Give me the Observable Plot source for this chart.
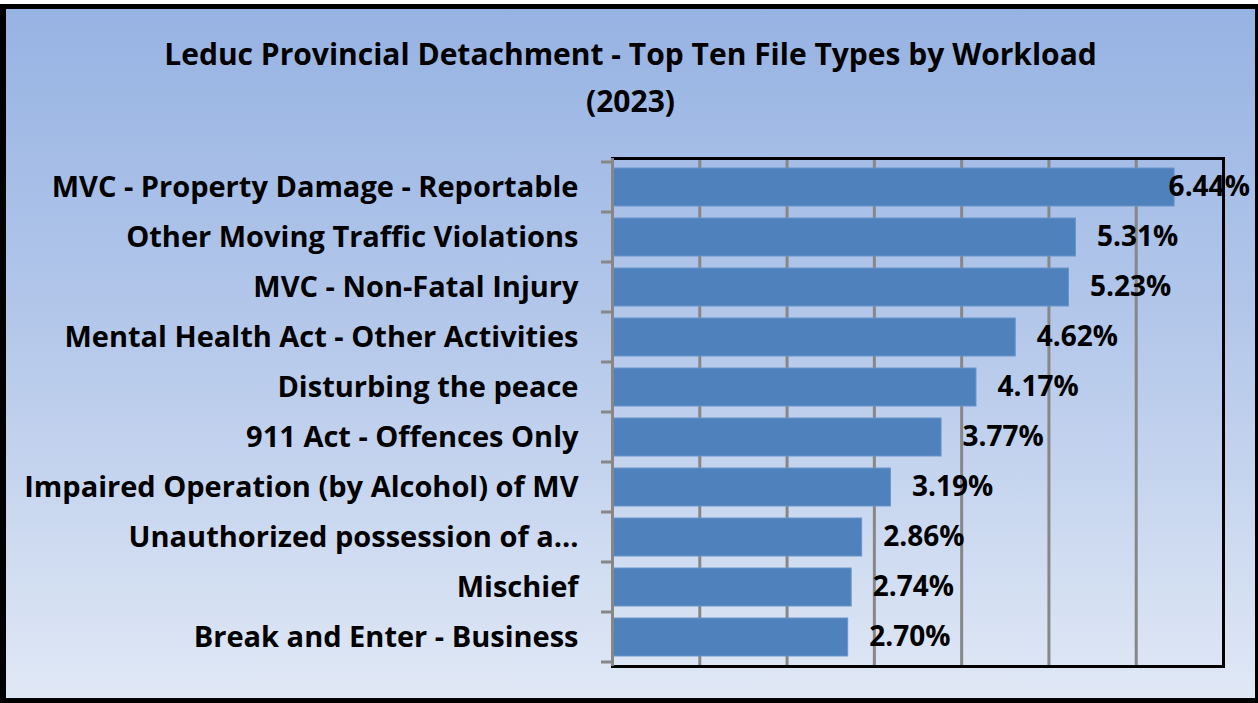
<!DOCTYPE html>
<html>
<head>
<meta charset="utf-8">
<script src="https://cdn.jsdelivr.net/npm/d3@7"></script>
<script src="https://cdn.jsdelivr.net/npm/@observablehq/plot@0.6"></script>
<style>
  html, body { margin: 0; padding: 0; background: #ffffff; }
  #chart {
    position: relative;
    margin-top: 4px;
    width: 1258px; height: 699px;
    box-sizing: border-box;
    border-style: solid; border-color: #000;
    border-width: 5px 3px 5px 6px;
    background: linear-gradient(to bottom, #97b3e3 0%, #b3c7ea 45%, #e0e8f5 100%);
    font-family: "Open Sans", Lato, sans-serif;
  }
  #title {
    height: 120px; box-sizing: border-box; padding-top: 21px;
    text-align: center; font-weight: bold; font-size: 30px; line-height: 47px; color: #000;
  }
  svg { display: block; }
</style>
</head>
<body>
<div id="chart">
  <div id="title">Leduc Provincial Detachment - Top Ten File Types by Workload<br>(2023)</div>
</div>
<script>
const categories = [
  "MVC - Property Damage - Reportable",
  "Other Moving Traffic Violations",
  "MVC - Non-Fatal Injury",
  "Mental Health Act - Other Activities",
  "Disturbing the peace",
  "911 Act - Offences Only",
  "Impaired Operation (by Alcohol) of MV",
  "Unauthorized possession of a...",
  "Mischief",
  "Break and Enter - Business"
];
const values = [6.44, 5.31, 5.23, 4.62, 4.17, 3.77, 3.19, 2.86, 2.74, 2.70];
const gridTicks = [1, 2, 3, 4, 5, 6];

const data = categories.map((c, i) => ({category: c, value: values[i]}));
const fmt = d => d.value.toFixed(2) + "%";

// tick marks at category boundaries on the left axis
function boundaryTicks(index, scales, vals, dims) {
  const y = scales.y;
  const step = categories.length > 1 ? y(categories[1]) - y(categories[0]) : 0;
  const bw = y.bandwidth ? y.bandwidth() : step * 0.75;
  const g = d3.create("svg:g");
  const xs = dims.marginLeft;
  for (let i = 0; i <= categories.length; i++) {
    const yy = i < categories.length ? y(categories[i]) - (step - bw) / 2 : y(categories[i - 1]) + bw + (step - bw) / 2;
    g.append("line")
      .attr("x1", xs - 11).attr("x2", xs)
      .attr("y1", yy).attr("y2", yy)
      .attr("stroke", "#878787").attr("stroke-width", 3);
  }
  return g.node();
}

const plot = Plot.plot({
  width: 1249,
  height: 569,
  marginTop: 29,
  marginBottom: 32,
  marginLeft: 606,
  marginRight: 32,
  style: {background: "transparent", fontFamily: "'Open Sans', Lato, sans-serif", overflow: "visible"},
  x: {domain: [0, 7], axis: null},
  y: {domain: categories, paddingInner: 0.25, paddingOuter: 0.125, label: null},
  marks: [
    Plot.ruleX(gridTicks, {stroke: "#878787", strokeWidth: 3}),
    Plot.barX(data, {x: "value", y: "category", fill: "#4f81bd", stroke: "#6b95c9", strokeWidth: 1}),
    Plot.frame({stroke: "#000", strokeWidth: 3}),
    Plot.ruleX([0], {stroke: "#878787", strokeWidth: 3}),
    boundaryTicks,
    Plot.axisY({tickSize: 0, tickPadding: 34, fontSize: 29, fontWeight: "bold", fill: "#000", label: null}),
    Plot.text(data.filter(d => d.value < 6), {x: "value", y: "category", text: fmt, textAnchor: "start", dx: 21, fontSize: 28, fontWeight: "bold", fill: "#000"}),
    Plot.text(data.filter(d => d.value >= 6), {x: "value", y: "category", text: fmt, textAnchor: "start", dx: -6, fontSize: 28, fontWeight: "bold", fill: "#000"})
  ]
});
document.getElementById("chart").appendChild(plot);
</script>
</body>
</html>
